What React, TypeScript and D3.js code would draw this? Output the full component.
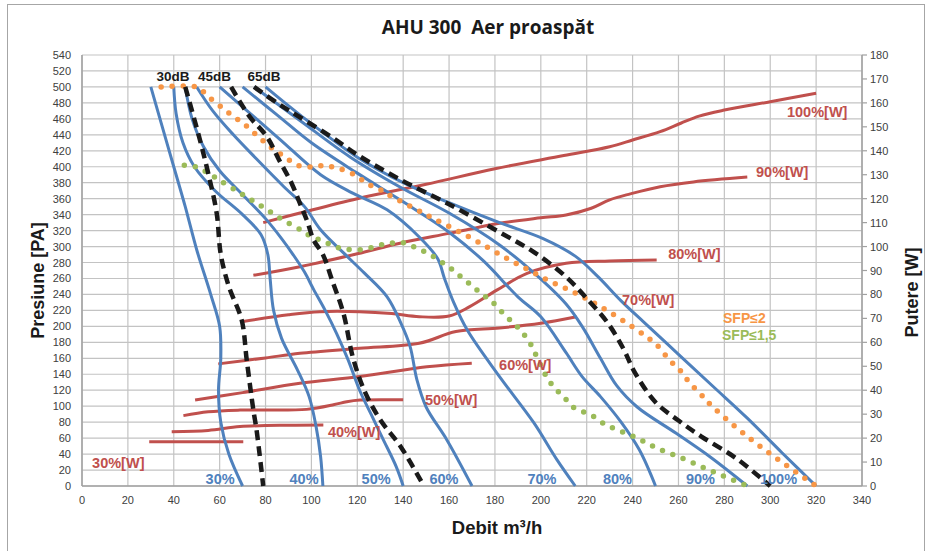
import React from 'react';
import * as d3 from 'd3';

// ---------- data ----------
const xTicks = [0, 20, 40, 60, 80, 100, 120, 140, 160, 180, 200, 220, 240, 260, 280, 300, 320, 340];
const yTicks = d3.range(0, 541, 20);
const y2Ticks = d3.range(0, 181, 10);

// fan curves (Debit m3/h, Presiune Pa)
const blue30 = [[30,500],[35,450],[40,400],[45,350],[50,296],[56,241],[60,200],[60.5,160],[59.5,120],[60.5,80],[64,40],[70,0]];
const blue40 = [[40,500],[41,467],[44,430],[49,400],[58,370],[70,340],[78,315],[81,290],[82,260],[83.5,220],[87,185],[94,145],[99,112],[102,75],[104,37],[105,0]];
const blue50 = [[45,500],[48,460],[53,425],[60,395],[70,365],[80,335],[87,310],[92,290],[97,268],[101,246],[106,220],[111,191],[116,158],[121,120],[126,90],[131,60],[137,24],[140,0]];
const blue60 = [[50,500],[57,470],[66,440],[76,410],[88,375],[97,350],[104,321],[114,292],[123,267],[133,237],[139,204],[143,175],[146,133],[150,99],[159,58],[170,0]];
const blue70 = [[60,500],[72,470],[86,435],[104,390],[118,367],[133,346],[147,312],[155,285],[158,260],[162,230],[168,195],[182,137],[197,79],[207,33],[215,0]];
const blue80 = [[70,500],[85,465],[100,430],[120,392],[140,356],[160,318],[175,282],[190,237],[200,212],[211,167],[218,137],[226,112],[235,80],[243,45],[250,0]];
const blue90 = [[75,500],[95,458],[117,412],[139,374],[160,342],[182,302],[197,267],[211,228],[218,200],[226,160],[233,126],[242,99],[259,66],[274,36],[290,0]];
const blue100 = [[80,500],[95,465],[120,412],[140,380],[160,355],[182,330],[201,310],[215,288],[225,262],[235,232],[245,205],[260,165],[275,125],[290,85],[305,42],[320,0]];
const blueSeries = [blue30, blue40, blue50, blue60, blue70, blue80, blue90, blue100];
const blueLabels = ['30%', '40%', '50%', '60%', '70%', '80%', '90%', '100%'];
const blueLabelX = [60.2, 96.8, 128.2, 157.8, 200.5, 233.4, 269.6, 303.6];

// noise curves (dashed)
const db30 = [[45,500],[51,438],[55,392],[58.7,342],[60.5,290],[64,250],[69.6,208],[71.8,158],[74.7,95],[76.1,70],[79,0]];
const db45 = [[65,500],[73,463],[80.5,438],[86,408],[91.4,379],[95,354],[98,333],[101,308],[105,290],[109,258],[114,216],[118,162],[123,120],[130,83],[139,49],[149,0]];
const db65 = [[75,500],[85,480],[95,462],[110,435],[120,415],[140,382],[160,353],[182,318],[197,293],[211,262],[220,235],[229,205],[236,172],[241,142],[250,105],[260,82],[270,62],[285,35],[300,0]];
const dbSeries = [db30, db45, db65];
const dbLabels = ['30dB', '45dB', '65dB'];
const dbLabelX = [39.7, 57.8, 79.3];

// SFP limits (dotted)
const sfp2 = [[34.5,500],[49.7,500],[53.3,493],[57,483],[61.6,473],[65.5,464],[70,455],[74,445],[78,435],[81.6,426],[86,417],[90.4,408],[95,401],[101.6,400],[106,402],[110,399],[114,396],[120,388],[124,379],[129,373],[133,366],[150,340],[170,310],[184,287],[193.8,272],[203,258],[212.7,245],[221.5,232],[231,216],[239.6,200],[246,187],[250.5,177],[256,158],[260.7,145],[265,129],[270.7,112],[275,99],[290,62],[305,30],[320,0]];
const sfp15 = [[44.6,402],[50.7,399],[55.5,391],[60,383],[69,367],[78,351],[86.7,335],[95.8,320],[100.3,312],[105,307],[110,300],[114,297],[119,296],[124,297],[129,301],[134,304],[139.4,305],[144.4,300],[149,294],[153.4,287],[158,278],[162,270],[166,260],[170,251],[174,241],[178,233],[182,221],[186.6,208],[191,195.5],[195.3,179],[198.2,162],[201,145],[203.3,133],[207,120],[210.5,110],[214,99],[218.5,93],[223,87],[227,79],[232,72],[242,60],[251,47],[261,35.5],[271,23],[280,12],[290,0]];

// power curves (Debit m3/h, Putere W)
const w30 = [[29.3,18.5],[50,18.5],[70.3,18.5]];
const w40 = [[39.1,22.7],[55,23.2],[68.9,24.8],[90,25.4],[105.2,25.5]];
const w50 = [[44.2,29.4],[55,31],[68.9,31.7],[97.9,32],[110,34],[115.4,35.2],[121.2,35.9],[140,36]];
const w60 = [[49.3,35.9],[70,39],[95,42.9],[121,45.7],[150.3,49.8],[169.9,51.3]];
const w70 = [[59.4,51],[80,53.5],[95,55.4],[121,57.5],[147,59.6],[163,64.5],[182,66],[200,68],[215.6,70.7]];
const w80 = [[69.6,68.6],[90,71.5],[103.7,72.8],[121,72.8],[135,72],[147,70.7],[160,71],[169,74.9],[181,81.9],[194,88.8],[211,93],[230,94],[250.5,94.4]];
const w90 = [[74.7,88],[95,91.6],[120,97],[138.6,101.4],[160,105.5],[182,109.7],[200,112],[211,113.2],[222,116],[230,119.5],[239,122],[252,125],[266.5,127],[290,129]];
const w100 = [[79,110],[95,114],[120,120],[150,126],[180,132.5],[210,138],[230,141.7],[240,144.5],[252,148],[261,151.5],[269,154.5],[280,157],[300,160.5],[320,164]];
const wSeries = [w30, w40, w50, w60, w70, w80, w90, w100];
const wLabels = ['30%[W]', '40%[W]', '50%[W]', '60%[W]', '70%[W]', '80%[W]', '90%[W]', '100%[W]'];
const wLabelPos = [[4.4, 9.6], [107.2, 22.6], [149.5, 35.9], [181.8, 50.5], [235.4, 77.7], [255.5, 96.9], [293.8, 131.2], [307.3, 156.2]];

// ---------- layout ----------
const W = 931, H = 551;
const L = 82, R = 862, T = 55, B = 486;

const x = d3.scaleLinear().domain([0, 340]).range([L, R]);
const y = d3.scaleLinear().domain([0, 540]).range([B, T]);
const y2 = d3.scaleLinear().domain([0, 180]).range([B, T]);

const BLUE = '#4F81BD', RED = '#C0504D', ORANGE = '#F79646', GREEN = '#9BBB59';
const FONT = 'Liberation Sans, Arial, sans-serif';

const lineP = d3.line<number[]>().x(d => x(d[0])).y(d => y(d[1])).curve(d3.curveCatmullRom.alpha(0.5));
const lineW = d3.line<number[]>().x(d => x(d[0])).y(d => y2(d[1])).curve(d3.curveCatmullRom.alpha(0.5));

export default function App() {
  return (
    <svg width={W} height={H} style={{ position: 'absolute', left: 0, top: 0, background: '#fff' }} fontFamily={FONT}>
      <rect x={0} y={0} width={W} height={H} fill="#fff" />
      <rect x={7.5} y={4.5} width={917} height={560} fill="none" stroke="#a6a6a6" strokeWidth={1} />
      <text x={488} y={34} textAnchor="middle" fontSize={19} fontWeight="bold" fill="#1a1a1a" fontFamily="Open Sans, sans-serif" style={{ whiteSpace: 'pre' }}>{'AHU 300  Aer proaspăt'}</text>

      {/* grid */}
      {yTicks.map(t => (
        <line key={'gy' + t} x1={L} x2={R} y1={y(t)} y2={y(t)} stroke="#c3c3c3" strokeWidth={1.2} />
      ))}
      {xTicks.map(t => (
        <line key={'gx' + t} x1={x(t)} x2={x(t)} y1={T} y2={B} stroke="#c3c3c3" strokeWidth={1.2} />
      ))}
      <line x1={L} x2={R} y1={B} y2={B} stroke="#a0a0a0" strokeWidth={1.5} />
      <line x1={L} x2={L} y1={T} y2={B} stroke="#a0a0a0" strokeWidth={1.5} />
      <line x1={R} x2={R} y1={T} y2={B} stroke="#a0a0a0" strokeWidth={1.5} />
      {y2Ticks.map(t => (
        <line key={'t2' + t} x1={R} x2={R + 5} y1={y2(t)} y2={y2(t)} stroke="#a0a0a0" strokeWidth={1.2} />
      ))}

      {/* tick labels */}
      {yTicks.map(t => (
        <text key={'ly' + t} x={L - 11} y={y(t) + 4} textAnchor="end" fontSize={11} fill="#404040">{t}</text>
      ))}
      {y2Ticks.map(t => (
        <text key={'ly2' + t} x={R + 8} y={y2(t) + 4} textAnchor="start" fontSize={11} fill="#404040">{t}</text>
      ))}
      {xTicks.map(t => (
        <text key={'lx' + t} x={x(t)} y={B + 18} textAnchor="middle" fontSize={11} fill="#404040">{t}</text>
      ))}

      {/* axis titles */}
      <text transform={`translate(44,${(T + B) / 2 + 10}) rotate(-90)`} textAnchor="middle" fontSize={18} fontWeight="bold" fill="#1a1a1a">Presiune [PA]</text>
      <text transform={`translate(918,${(T + B) / 2 + 22}) rotate(-90)`} textAnchor="middle" fontSize={18} fontWeight="bold" fill="#1a1a1a">Putere [W]</text>
      <text x={497} y={534} textAnchor="middle" fontSize={18.5} fontWeight="bold" fill="#1a1a1a">Debit m³/h</text>

      {/* power curves */}
      {wSeries.map((s, i) => (
        <path key={'w' + i} d={lineW(s) || ''} fill="none" stroke={RED} strokeWidth={3} />
      ))}

      {/* fan curves */}
      {blueSeries.map((s, i) => (
        <path key={'b' + i} d={lineP(s) || ''} fill="none" stroke={BLUE} strokeWidth={3} />
      ))}

      {/* SFP */}
      <path d={lineP(sfp2) || ''} fill="none" stroke={ORANGE} strokeWidth={5.5} strokeLinecap="round" strokeDasharray="0 11" />
      <path d={lineP(sfp15) || ''} fill="none" stroke={GREEN} strokeWidth={5.5} strokeLinecap="round" strokeDasharray="0 11" />

      {/* noise */}
      {dbSeries.map((s, i) => (
        <path key={'d' + i} d={lineP(s) || ''} fill="none" stroke="#1a1a1a" strokeWidth={4.5} strokeDasharray="10 6" />
      ))}

      {/* labels */}
      {dbLabels.map((t, i) => (
        <text key={'dl' + i} x={x(dbLabelX[i])} y={y(507)} textAnchor="middle" fontSize={13.5} fontWeight="bold" fill="#1a1a1a">{t}</text>
      ))}
      {blueLabels.map((t, i) => (
        <text key={'bl' + i} x={x(blueLabelX[i])} y={y(3)} textAnchor="middle" fontSize={14.5} fontWeight="bold" fill={BLUE}>{t}</text>
      ))}
      {wLabels.map((t, i) => (
        <text key={'wl' + i} x={x(wLabelPos[i][0])} y={y2(wLabelPos[i][1]) + 5} textAnchor="start" fontSize={14.5} fontWeight="bold" fill={RED}>{t}</text>
      ))}
      <text x={723} y={323} fontSize={14} fontWeight="bold" fill={ORANGE}>SFP≤2</text>
      <text x={722} y={340} fontSize={14} fontWeight="bold" fill={GREEN}>SFP≤1,5</text>
    </svg>
  );
}
